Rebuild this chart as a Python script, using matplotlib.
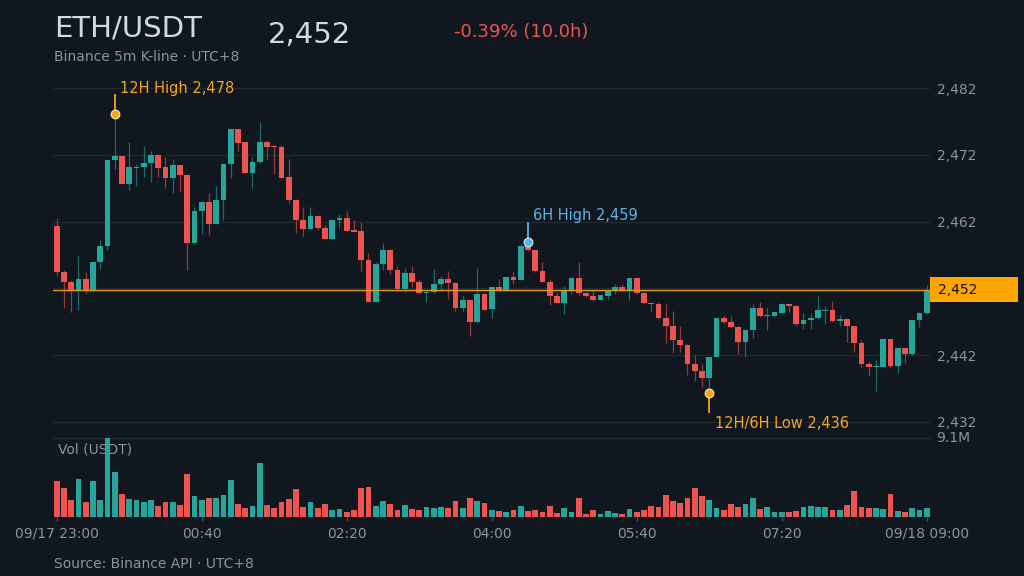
import matplotlib
matplotlib.use("Agg")
import matplotlib.pyplot as plt
from matplotlib.patches import Rectangle
from matplotlib.transforms import blended_transform_factory
from datetime import datetime, timedelta
import numpy as np

# ---------------- data ----------------
symbol = "ETH/USDT"
subtitle = "Binance 5m K-line · UTC+8"
source = "Source: Binance API · UTC+8"
start_time = datetime(2025, 9, 17, 23, 0)
interval_min = 5

opens = [2461.4, 2454.4, 2453.0, 2451.8, 2453.4, 2451.8, 2456.0, 2458.4, 2471.2, 2471.8,
         2467.7, 2470.1, 2470.2, 2470.7, 2471.9, 2470.1, 2468.5, 2470.5, 2469.0, 2458.8,
         2463.6, 2464.9, 2461.6, 2465.3, 2470.6, 2475.9, 2473.9, 2469.3, 2470.9, 2473.9,
         2473.3, 2473.2, 2468.7, 2465.3, 2462.3, 2460.9, 2462.8, 2461.1, 2459.4, 2462.3,
         2462.5, 2460.7, 2460.6, 2456.2, 2450.0, 2455.6, 2457.8, 2454.7, 2451.9, 2454.3,
         2453.0, 2451.3, 2451.4, 2452.6, 2453.4, 2452.8, 2449.0, 2450.2, 2446.9, 2451.1,
         2448.9, 2452.2, 2451.7, 2453.7, 2453.3, 2458.3, 2457.7, 2454.6, 2453.0, 2450.9,
         2449.8, 2451.6, 2453.6, 2451.3, 2450.9, 2450.3, 2450.9, 2451.7, 2452.2, 2451.8,
         2453.5, 2451.3, 2449.8, 2449.6, 2447.5, 2446.4, 2444.3, 2443.6, 2440.7, 2439.7,
         2438.6, 2441.8, 2447.6, 2446.9, 2446.2, 2444.0, 2445.8, 2449.0, 2447.8, 2447.8,
         2448.3, 2449.7, 2449.4, 2446.7, 2447.2, 2447.5, 2448.6, 2448.8, 2447.1, 2447.4,
         2446.3, 2443.8, 2440.7, 2440.2, 2440.3, 2444.4, 2440.4, 2443.1, 2442.2, 2447.2,
         2448.3]
highs = [2462.6, 2454.8, 2453.2, 2456.9, 2454.4, 2456.0, 2459.3, 2471.4, 2478.1, 2471.8,
         2473.9, 2470.6, 2473.3, 2472.6, 2471.9, 2471.6, 2471.4, 2470.5, 2469.1, 2464.2,
         2465.0, 2466.3, 2467.4, 2470.7, 2475.9, 2475.9, 2473.9, 2471.6, 2476.9, 2474.2,
         2473.5, 2473.4, 2471.4, 2465.4, 2464.2, 2464.2, 2463.0, 2461.5, 2462.4, 2463.1,
         2463.6, 2462.3, 2461.9, 2457.3, 2455.9, 2458.8, 2457.9, 2455.4, 2455.0, 2455.4,
         2453.4, 2451.5, 2454.9, 2453.8, 2454.6, 2452.9, 2450.8, 2450.2, 2455.1, 2451.3,
         2452.2, 2453.4, 2453.7, 2454.5, 2458.6, 2459.0, 2457.8, 2455.9, 2453.4, 2451.5,
         2452.3, 2453.6, 2456.0, 2451.3, 2451.7, 2451.0, 2451.7, 2452.6, 2452.6, 2453.5,
         2453.5, 2451.4, 2449.9, 2450.0, 2449.7, 2448.6, 2446.3, 2443.7, 2442.1, 2440.7,
         2441.8, 2447.6, 2448.0, 2447.9, 2446.3, 2445.8, 2449.7, 2450.0, 2449.0, 2448.4,
         2449.8, 2449.7, 2449.5, 2448.3, 2448.2, 2450.9, 2449.3, 2450.1, 2448.0, 2447.4,
         2446.4, 2444.3, 2441.0, 2441.3, 2444.4, 2444.4, 2443.1, 2443.1, 2447.2, 2448.5,
         2452.5]
lows = [2453.8, 2449.0, 2448.5, 2448.8, 2451.1, 2451.5, 2454.9, 2457.7, 2469.9, 2467.7,
        2466.8, 2467.3, 2468.7, 2468.0, 2468.7, 2467.0, 2466.3, 2466.4, 2454.7, 2458.6,
        2460.2, 2460.0, 2461.6, 2462.2, 2468.6, 2472.5, 2469.3, 2467.1, 2470.8, 2471.2,
        2469.1, 2468.6, 2464.8, 2460.3, 2459.8, 2460.9, 2460.7, 2459.3, 2459.3, 2461.1,
        2460.6, 2460.4, 2454.6, 2449.9, 2449.9, 2454.7, 2454.1, 2451.8, 2451.5, 2452.2,
        2451.2, 2449.9, 2451.3, 2451.8, 2450.4, 2448.6, 2448.6, 2444.9, 2446.8, 2448.7,
        2447.5, 2451.6, 2451.6, 2452.6, 2453.2, 2457.6, 2454.5, 2452.9, 2449.5, 2449.7,
        2448.2, 2451.2, 2450.8, 2450.7, 2450.1, 2450.2, 2450.4, 2451.1, 2451.6, 2450.2,
        2451.1, 2449.7, 2448.6, 2447.4, 2443.8, 2442.4, 2442.5, 2439.1, 2438.2, 2437.2,
        2436.3, 2441.7, 2446.6, 2446.0, 2442.2, 2441.8, 2444.5, 2447.7, 2445.7, 2447.7,
        2448.2, 2448.5, 2446.4, 2445.9, 2445.9, 2447.4, 2446.6, 2447.0, 2446.4, 2444.0,
        2442.5, 2440.2, 2438.9, 2436.7, 2440.2, 2440.1, 2439.4, 2440.8, 2442.1, 2446.2,
        2448.2]
closes = [2454.4, 2453.0, 2451.8, 2453.4, 2451.8, 2456.0, 2458.4, 2471.2, 2471.8, 2467.7,
          2470.1, 2470.2, 2470.7, 2471.9, 2470.0, 2468.5, 2470.5, 2469.0, 2458.8, 2463.6,
          2464.9, 2461.6, 2465.3, 2470.6, 2475.9, 2473.7, 2469.3, 2470.9, 2473.9, 2473.2,
          2473.1, 2468.6, 2465.3, 2462.2, 2460.9, 2462.8, 2461.0, 2459.4, 2462.3, 2462.5,
          2460.6, 2460.5, 2456.2, 2450.0, 2455.7, 2457.8, 2454.7, 2451.9, 2454.3, 2453.0,
          2451.3, 2451.5, 2452.7, 2453.4, 2452.8, 2449.0, 2450.2, 2446.9, 2451.1, 2448.8,
          2452.2, 2451.7, 2453.7, 2453.3, 2458.3, 2457.7, 2454.6, 2453.0, 2450.9, 2449.8,
          2451.6, 2453.6, 2451.3, 2450.8, 2450.3, 2451.0, 2451.7, 2452.2, 2451.8, 2453.5,
          2451.3, 2449.8, 2449.6, 2447.5, 2446.4, 2444.3, 2443.6, 2440.7, 2439.7, 2438.6,
          2441.8, 2447.6, 2446.9, 2446.2, 2444.0, 2445.8, 2449.0, 2447.8, 2448.0, 2448.4,
          2449.6, 2449.4, 2446.7, 2447.3, 2447.6, 2448.8, 2448.8, 2447.1, 2447.4, 2446.3,
          2443.8, 2440.7, 2440.2, 2440.3, 2444.4, 2440.4, 2443.1, 2442.2, 2447.2, 2448.3,
          2451.8]
volumes_m = [4.09, 3.39, 2.00, 4.32, 1.70, 4.09, 2.00, 9.10, 5.24, 2.62,
             2.08, 2.00, 1.77, 1.93, 1.31, 1.77, 1.70, 1.39, 4.94, 2.47,
             2.00, 2.16, 2.16, 2.54, 4.24, 1.54, 1.00, 1.31, 6.17, 1.39,
             1.08, 1.77, 2.08, 3.24, 1.16, 1.70, 1.00, 1.54, 0.85, 0.93,
             0.62, 0.85, 3.32, 3.47, 1.31, 1.85, 1.54, 0.85, 1.39, 0.93,
             0.77, 1.16, 1.08, 1.16, 1.00, 1.85, 1.08, 2.16, 1.85, 1.62,
             0.77, 0.69, 0.62, 0.77, 1.31, 0.69, 0.85, 0.62, 1.23, 0.46,
             1.00, 0.62, 2.24, 0.31, 0.77, 0.31, 0.69, 0.46, 0.39, 0.93,
             0.54, 0.85, 1.31, 1.16, 2.54, 1.85, 1.62, 2.16, 3.32, 2.39,
             1.93, 1.08, 0.85, 1.47, 1.16, 1.47, 2.16, 0.93, 1.16, 0.62,
             0.62, 0.62, 0.69, 1.16, 1.23, 1.16, 1.16, 0.85, 0.77, 1.39,
             3.01, 1.16, 1.08, 1.00, 0.93, 2.70, 0.69, 0.54, 1.00, 0.85, 1.00]

price_ticks = [2432, 2442, 2452, 2462, 2472, 2482]
time_tick_idx = [0, 20, 40, 60, 80, 100, 120]

# ---------------- style ----------------
BG = "#11171f"
GRID = "#1f2731"
GREEN = "#26a69a"
RED = "#ef5350"
ORANGE = "#f5a623"
BLUE = "#5ab4e6"
TXT = "#d3d9e0"
GRAY = "#8b939d"

W, H = 1024, 576
fig = plt.figure(figsize=(W / 100, H / 100), dpi=100, facecolor=BG)
plt.rcParams['font.family'] = ['DejaVu Sans']


def rect(l, t, r, b):
    return [l / W, 1 - b / H, (r - l) / W, (b - t) / H]


P_TOP, P_BOT = 80, 432
axp = fig.add_axes(rect(53.1, P_TOP, 930.3, P_BOT))
axv = fig.add_axes(rect(53.1, 438, 930.3, 517))
for a in (axp, axv):
    a.set_facecolor(BG)
    for s in a.spines.values():
        s.set_visible(False)

o = np.array(opens); h = np.array(highs); l = np.array(lows); c = np.array(closes)
v = np.array(volumes_m)
n = len(c)
x = np.arange(n)
up = c >= o
cols = np.where(up, GREEN, RED)

ymin, ymax = 2430.5, 2483.2
px = (ymax - ymin) / (P_BOT - P_TOP)  # data units per pixel

# candles
axp.vlines(x, l, h, colors=cols, linewidth=0.9, alpha=0.6, zorder=2)
body_lo = np.minimum(o, c)
body_h = np.abs(c - o)
min_h = 1.2 * px
mid = (o + c) / 2
body_lo = np.where(body_h < min_h, mid - min_h / 2, body_lo)
body_h = np.maximum(body_h, min_h)
axp.bar(x, body_h, bottom=body_lo, width=0.8, color=cols, linewidth=0, zorder=3)

axp.set_xlim(-0.5, n - 0.5)
axp.set_ylim(ymin, ymax)
axp.set_xticks([])
axp.set_yticks(price_ticks)
axp.set_yticklabels([f"{t:,}" for t in price_ticks])
axp.yaxis.tick_right()
axp.tick_params(axis='y', length=0, pad=4.5, labelcolor=GRAY, labelsize=10)
axp.grid(axis='y', color=GRID, linewidth=1)
axp.set_axisbelow(True)

# last price line + box
last = c[-1]
axp.axhline(last, color="#e39a17", linewidth=1, zorder=4)
bt = blended_transform_factory(axp.transAxes, axp.transData)
axw = 930.3 - 53.1
axp.add_patch(Rectangle((1.0, last - 12.5 * px), 88 / axw, 25 * px, transform=bt,
                        facecolor="#ffa500", edgecolor="none", clip_on=False, zorder=5))
axp.text(1.0 + 8 / axw, last, f"{last:,.0f}", transform=bt, ha='left', va='center',
         color="#111111", fontsize=10, zorder=6, clip_on=False)

# high / low annotations
i_hi = int(np.argmax(h))
w6 = 72
i_hi6 = n - w6 + int(np.argmax(h[-w6:]))
i_lo = int(np.argmin(l))
i_lo6 = n - w6 + int(np.argmin(l[-w6:]))
lo_label = "12H/6H Low" if i_lo == i_lo6 else "12H Low"


def mark(i, price, label, color, up_dir=True):
    d = 20 * px
    end = price + d if up_dir else price - d
    axp.plot([i, i], [price, end], color=color, linewidth=1.3, zorder=6,
             solid_capstyle='butt')
    axp.plot([i], [price], marker='o', markersize=6.3, color=color,
             markeredgecolor="#ffe3a8" if color == ORANGE else "#cdeafc",
             markeredgewidth=0.8, zorder=7)
    ty = end + 6 * px if up_dir else end - 10 * px
    axp.text(i + 0.75, ty, label, color=color, fontsize=10.5, ha='left', va='center',
             zorder=7)


mark(i_hi, h[i_hi], f"12H High {h[i_hi]:,.0f}", ORANGE, True)
mark(i_hi6, h[i_hi6], f"6H High {h[i_hi6]:,.0f}", BLUE, True)
mark(i_lo, l[i_lo], f"{lo_label} {l[i_lo]:,.0f}", ORANGE, False)

# volume
vmax = v.max()
axv.bar(x, v, width=0.8, color=cols, linewidth=0, zorder=2)
axv.set_xlim(-0.5, n - 0.5)
axv.set_ylim(0, vmax)
axv.set_yticks([])
axv.axhline(vmax, color=GRID, linewidth=1, clip_on=False, zorder=1)
bv = blended_transform_factory(axv.transAxes, axv.transData)
axv.text(1.0 + 6 / axw, vmax, f"{vmax:.1f}M", transform=bv, ha='left', va='center',
         color=GRAY, fontsize=10, clip_on=False)
axv.text(5 / axw, 0.86, "Vol (USDT)", transform=axv.transAxes, ha='left', va='center',
         color=GRAY, fontsize=10, zorder=0.5)

times = [start_time + timedelta(minutes=interval_min * i) for i in time_tick_idx]
tlabels = []
for k, t in enumerate(times):
    if k == 0 or k == len(times) - 1:
        tlabels.append(t.strftime("%m/%d %H:%M"))
    else:
        tlabels.append(t.strftime("%H:%M"))
axv.set_xticks(time_tick_idx)
axv.set_xticklabels(tlabels)
axv.tick_params(axis='x', length=3, width=1, color="#4a525c", labelcolor=GRAY,
                labelsize=10, pad=4)

# header
chg = (c[-1] / o[0] - 1) * 100
hours = n * interval_min / 60 - interval_min / 60
fig.text(54 / W, 1 - 36.7 / H, symbol, color=TXT, fontsize=21, ha='left', va='baseline')
fig.text(268 / W, 1 - 42.5 / H, f"{last:,.0f}", color=TXT, fontsize=21, ha='left',
         va='baseline')
fig.text(454 / W, 1 - 37.3 / H, f"{chg:+.2f}% ({hours:.1f}h)", color=RED, fontsize=13,
         ha='left', va='baseline')
fig.text(54 / W, 1 - 61 / H, subtitle, color=GRAY, fontsize=10, ha='left', va='baseline')
fig.text(54 / W, 1 - 568 / H, source, color=GRAY, fontsize=10, ha='left', va='baseline')

fig.savefig("out.png", dpi=100, facecolor=BG)
